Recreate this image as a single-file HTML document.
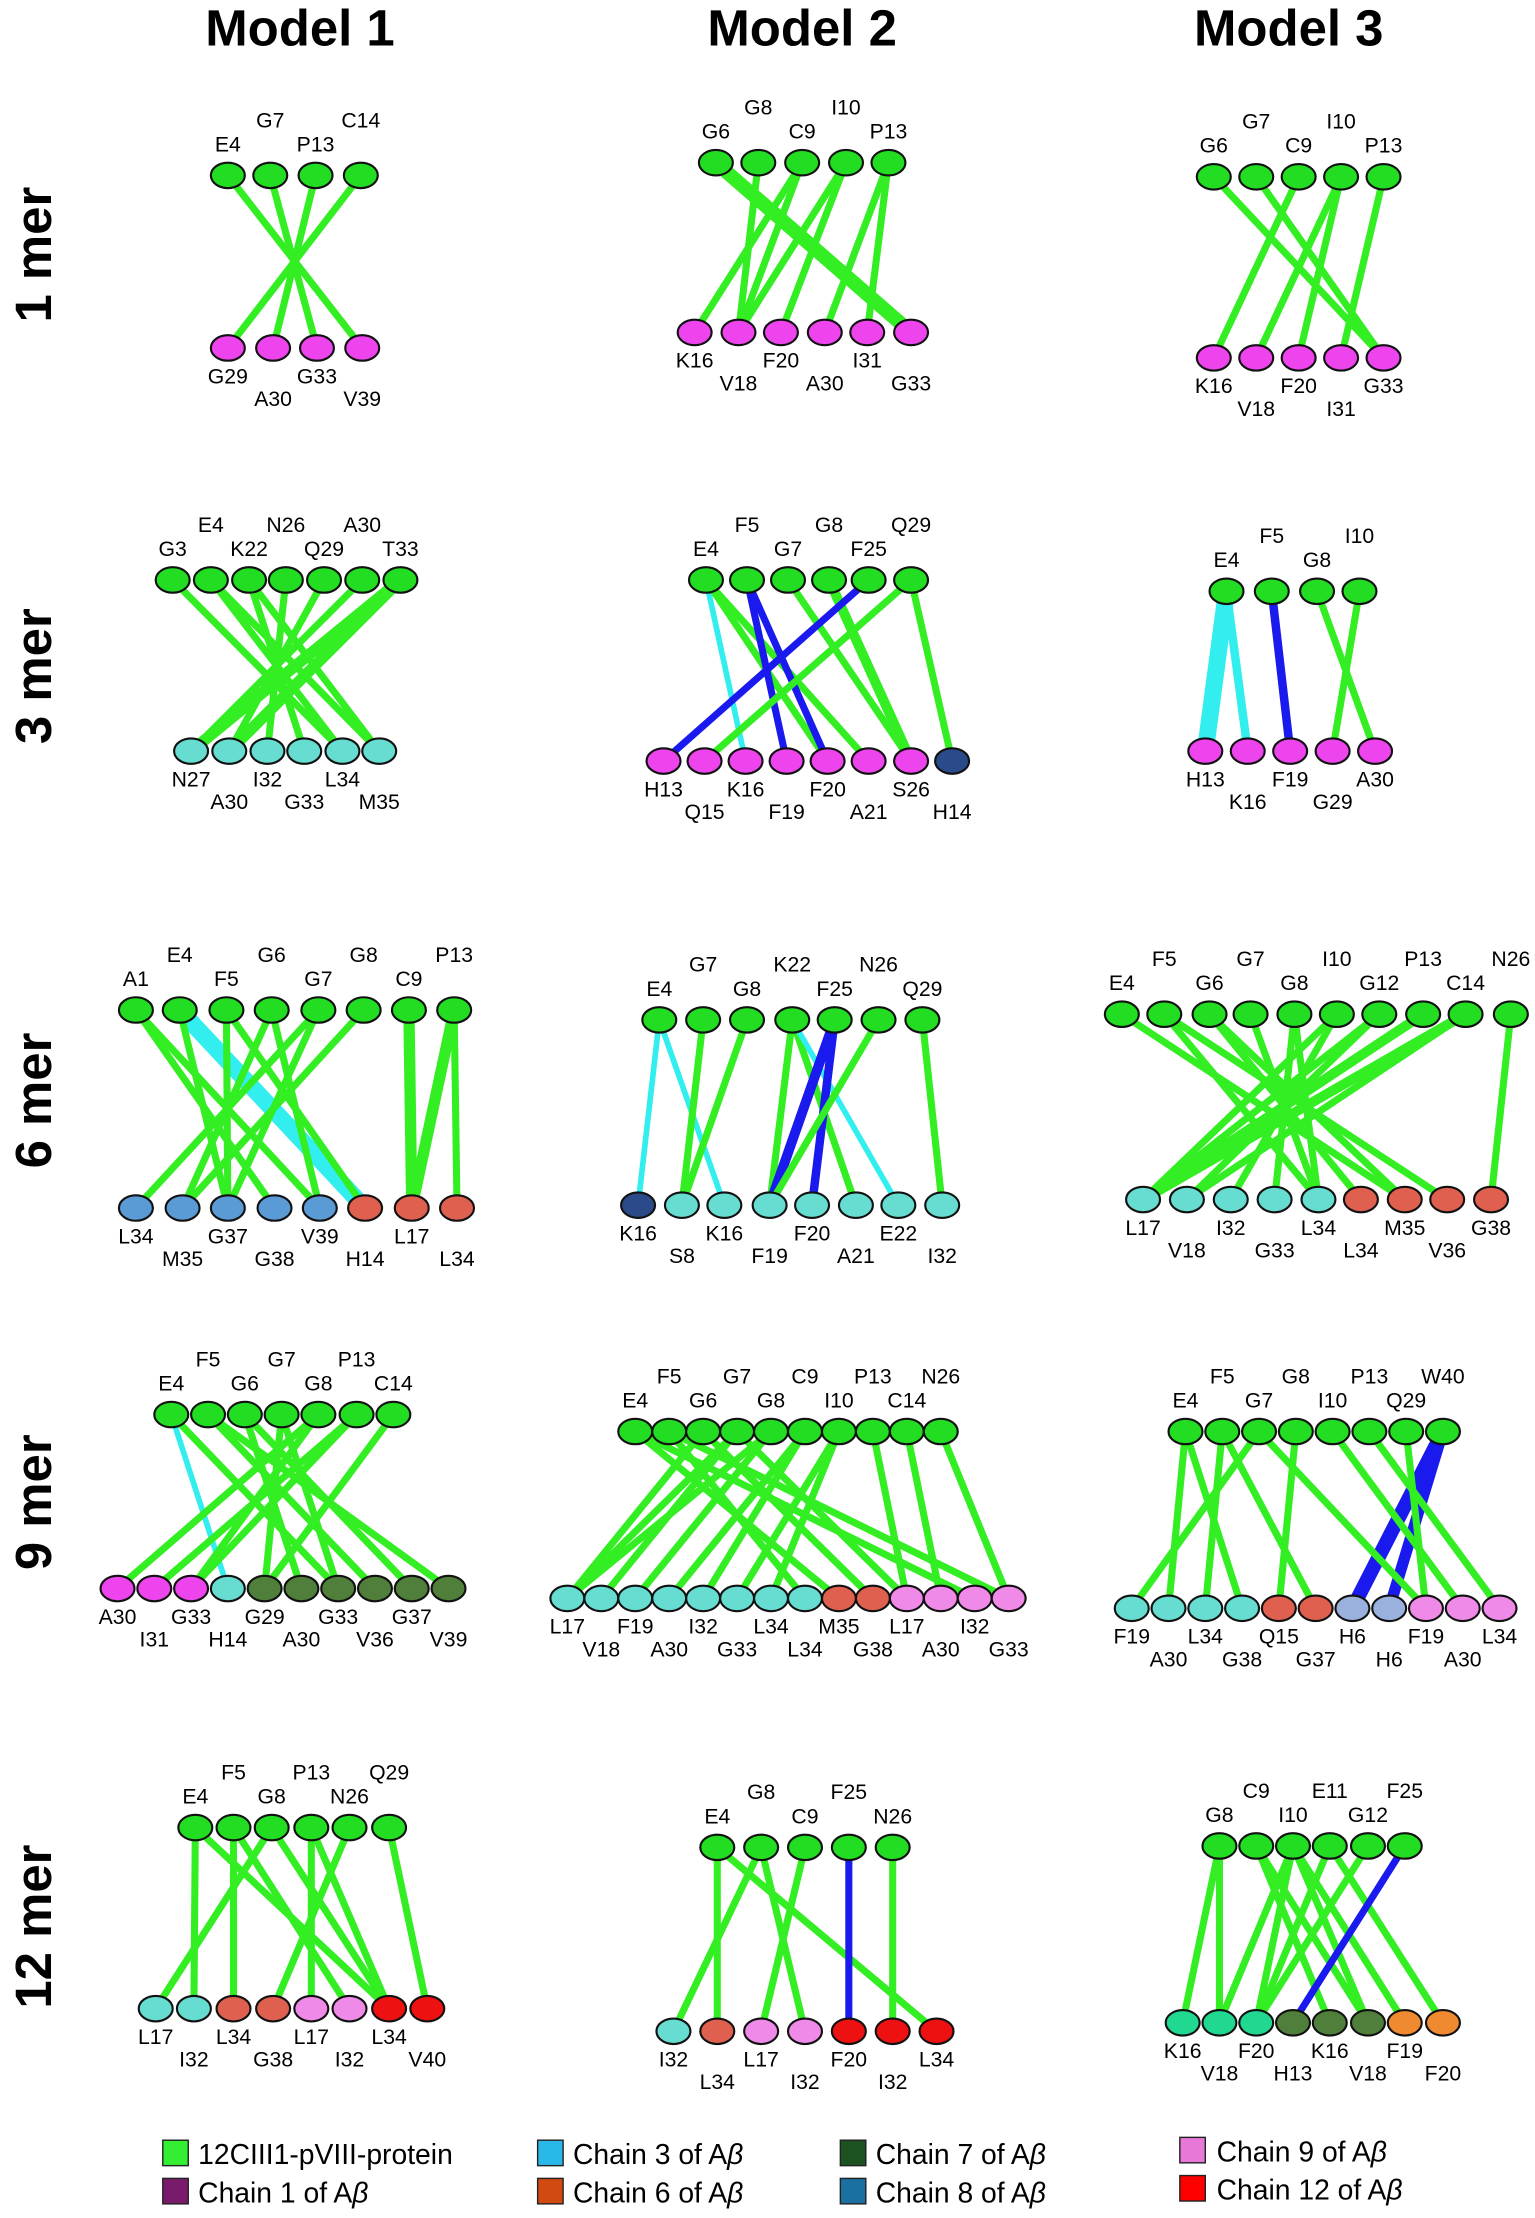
<!DOCTYPE html>
<html><head><meta charset="utf-8">
<style>
html,body{margin:0;padding:0;background:#fff;}
svg{display:block;font-family:"Liberation Sans",Arial,sans-serif;}
</style></head>
<body>
<svg id="chart" width="1535" height="2218" viewBox="0 0 1085 1568" xmlns="http://www.w3.org/2000/svg">
<g font-weight="bold" font-size="36" text-anchor="middle">
<text x="212" y="32">Model 1</text>
<text x="567" y="32">Model 2</text>
<text x="911" y="32">Model 3</text>
</g>
<g font-weight="bold" font-size="36" text-anchor="middle">
<text transform="translate(36,180) rotate(-90)">1 mer</text>
<text transform="translate(36,478) rotate(-90)">3 mer</text>
<text transform="translate(36,778) rotate(-90)">6 mer</text>
<text transform="translate(36,1062) rotate(-90)">9 mer</text>
<text transform="translate(36,1362) rotate(-90)">12 mer</text>
</g>
<g id="panels"></g>
<g font-size="20">
<rect x="115" y="1513" width="18" height="18" fill="#33ee33" stroke="#222"/>
<text x="140" y="1530">12CIII1-pVIII-protein</text>
<rect x="380" y="1513" width="18" height="18" fill="#2ab8e8" stroke="#222"/>
<text x="405" y="1530">Chain 3 of A<tspan font-style="italic">β</tspan></text>
<rect x="594" y="1513" width="18" height="18" fill="#1c5222" stroke="#222"/>
<text x="619" y="1530">Chain 7 of A<tspan font-style="italic">β</tspan></text>
<rect x="834" y="1511" width="18" height="18" fill="#e878d8" stroke="#222"/>
<text x="860" y="1528">Chain 9 of A<tspan font-style="italic">β</tspan></text>
<rect x="115" y="1540" width="18" height="18" fill="#7a1a6a" stroke="#222"/>
<text x="140" y="1557">Chain 1 of A<tspan font-style="italic">β</tspan></text>
<rect x="380" y="1540" width="18" height="18" fill="#d04a12" stroke="#222"/>
<text x="405" y="1557">Chain 6 of A<tspan font-style="italic">β</tspan></text>
<rect x="594" y="1540" width="18" height="18" fill="#1a70a0" stroke="#222"/>
<text x="619" y="1557">Chain 8 of A<tspan font-style="italic">β</tspan></text>
<rect x="834" y="1538" width="18" height="18" fill="#ff0000" stroke="#222"/>
<text x="860" y="1555">Chain 12 of A<tspan font-style="italic">β</tspan></text>
</g>
</svg>
<script>
const colorMap={g:'#22dd22',m:'#ee44ee',t:'#66ddd0',s:'#5b9bd5',r:'#e06050',d:'#4f7f3a',n:'#2a4a8a',R:'#ee1111',o:'#f08a30',p:'#f08ae8',l:'#9ab0dd',e:'#20d890'};
const edgeColors={G:'#33ee22',C:'#33eeee',B:'#1a1aee'};
const panels=[
{id:'m1-1mer',ty:124,tx:[161,191,223,255],tl:['E4','G7','P13','C14'],by:246,bx:[161,193,224,256],bl:['G29','A30','G33','V39'],bc:'mmmm',
 edges:[[0,3],[1,2],[2,1],[3,0]]},
{id:'m2-1mer',ty:115,tx:[506,536,567,598,628],tl:['G6','G8','C9','I10','P13'],by:235,bx:[491,522,552,583,613,644],bl:['K16','V18','F20','A30','I31','G33'],bc:'mmmmmm',
 edges:[[0,5,10],[1,1],[2,0],[2,1],[3,1],[3,2],[4,3],[4,4]]},
{id:'m3-1mer',ty:125,tx:[858,888,918,948,978],tl:['G6','G7','C9','I10','P13'],by:253,bx:[858,888,918,948,978],bl:['K16','V18','F20','I31','G33'],bc:'mmmmm',
 edges:[[0,4],[1,4],[2,0],[3,1],[3,2],[4,3]]},
{id:'m1-3mer',ty:410,tx:[122,149,176,202,229,256,283],tl:['G3','E4','K22','N26','Q29','A30','T33'],by:531,bx:[135,162,189,215,242,268],bl:['N27','A30','I32','G33','L34','M35'],bc:'tttttt',
 edges:[[0,4],[1,5],[1,4],[2,3],[3,2],[4,1],[5,0],[6,0,8],[6,1,8],[2,5]]},
{id:'m2-3mer',ty:410,tx:[499,528,557,586,614,644],tl:['E4','F5','G7','G8','F25','Q29'],by:538,bx:[469,498,527,556,585,614,644,673],bl:['H13','Q15','K16','F19','F20','A21','S26','H14'],bc:'mmmmmmmn',
 edges:[[0,2,4,'C'],[0,4],[0,5],[1,3,5,'B'],[1,4,5,'B'],[2,6],[3,6,7],[4,0,5,'B'],[5,1],[5,7]]},
{id:'m3-3mer',ty:418,tx:[867,899,931,961],tl:['E4','F5','G8','I10'],by:531,bx:[852,882,912,942,972],bl:['H13','K16','F19','G29','A30'],bc:'mmmmm',
 edges:[[0,0,12,'C'],[0,1,6,'C'],[1,2,6,'B'],[2,4],[3,3]]},
{id:'m1-6mer',ty:714,tx:[96,127,160,192,225,257,289,321],tl:['A1','E4','F5','G6','G7','G8','C9','P13'],by:854,bx:[96,129,161,194,226,258,291,323],bl:['L34','M35','G37','G38','V39','H14','L17','L34'],bc:'sssssrrr',
 edges:[[0,3],[0,4],[1,5,12,'C'],[1,2],[2,2],[2,5],[3,1],[3,4],[4,0],[4,2],[5,1],[6,6,8],[7,6,8],[7,7]]},
{id:'m2-6mer',ty:721,tx:[466,497,528,560,590,621,652],tl:['E4','G7','G8','K22','F25','N26','Q29'],by:852,bx:[451,482,512,544,574,605,635,666],bl:['K16','S8','K16','F19','F20','A21','E22','I32'],bc:'nttttttt',
 edges:[[0,0,4,'C'],[0,2,4,'C'],[1,1],[2,1],[3,3],[3,5],[3,6,4,'C'],[4,3,7,'B'],[4,4,6,'B'],[5,3],[6,7]]},
{id:'m3-6mer',ty:717,tx:[793,823,855,884,915,945,975,1006,1036,1068],tl:['E4','F5','G6','G7','G8','I10','G12','P13','C14','N26'],by:848,bx:[808,839,870,901,932,962,993,1023,1054],bl:['L17','V18','I32','G33','L34','L34','M35','V36','G38'],bc:'tttttrrrr',
 edges:[[0,6],[1,7],[2,5],[7,0,7],[8,0,7],[8,1],[6,1],[5,2],[4,3],[3,4],[9,8],[2,6],[4,4],[1,4],[6,0],[5,0]]},
{id:'m1-9mer',ty:1000,tx:[121,147,173,199,225,252,278],tl:['E4','F5','G6','G7','G8','P13','C14'],by:1123,bx:[83,109,135,161,187,213,239,265,291,317],bl:['A30','I31','G33','H14','G29','A30','G33','V36','G37','V39'],bc:'mmmtdddddd',
 edges:[[0,3,4,'C'],[0,6],[1,7],[1,9],[2,5],[2,8],[3,4],[4,0],[4,2],[5,2],[5,1],[6,4],[3,6]]},
{id:'m2-9mer',ty:1012,tx:[449,473,497,521,545,569,593,617,641,665],tl:['E4','F5','G6','G7','G8','C9','I10','P13','C14','N26'],by:1130,bx:[401,425,449,473,497,521,545,569,593,617,641,665,689,713],bl:['L17','V18','F19','A30','I32','G33','L34','L34','M35','G38','L17','A30','I32','G33'],bc:'ttttttttrrpppp',
 edges:[[0,8],[0,12],[1,7],[2,0],[3,0],[3,1],[4,0],[4,2],[5,3],[5,4],[6,5],[6,6],[7,10],[8,11],[9,13],[2,9],[3,10],[1,13]]},
{id:'m3-9mer',ty:1012,tx:[838,864,890,916,942,968,994,1020],tl:['E4','F5','G7','G8','I10','P13','Q29','W40'],by:1137,bx:[800,826,852,878,904,930,956,982,1008,1034,1060],bl:['F19','A30','L34','G38','Q15','G37','H6','H6','F19','A30','L34'],bc:'ttttrrllppp',
 edges:[[7,6,10,'B'],[7,7,8,'B'],[0,1],[0,3],[1,2],[1,5],[2,0],[3,4],[4,9],[5,10],[6,8],[2,8]]},
{id:'m1-12mer',ty:1292,tx:[138,165,192,220,247,275],tl:['E4','F5','G8','P13','N26','Q29'],by:1420,bx:[110,137,165,193,220,247,275,302],bl:['L17','I32','L34','G38','L17','I32','L34','V40'],bc:'ttrrppRR',
 edges:[[0,1],[0,6],[1,2],[1,5],[2,0],[2,6],[3,4],[3,6],[4,3],[5,7]]},
{id:'m2-12mer',ty:1306,tx:[507,538,569,600,631],tl:['E4','G8','C9','F25','N26'],by:1436,bx:[476,507,538,569,600,631,662],bl:['I32','L34','L17','I32','F20','I32','L34'],bc:'trppRRR',
 edges:[[0,1],[0,6],[1,0],[1,3],[2,2],[3,4,5,'B'],[4,5]]},
{id:'m3-12mer',ty:1305,tx:[862,888,914,940,967,993],tl:['G8','C9','I10','E11','G12','F25'],by:1430,bx:[836,862,888,914,940,967,993,1020],bl:['K16','V18','F20','H13','K16','V18','F19','F20'],bc:'eeedddoo',
 edges:[[0,0],[0,1],[1,4],[1,5],[2,1],[2,2],[2,5],[2,6],[3,2],[3,7],[4,2],[5,3,5,'B']]}
];
const NS='http://www.w3.org/2000/svg';
const root=document.getElementById('panels');
function mk(tag,attrs,parent){const e=document.createElementNS(NS,tag);for(const k in attrs)e.setAttribute(k,attrs[k]);parent.appendChild(e);return e;}
panels.forEach(p=>{
  const g=mk('g',{},root);
  
  
  p.edges.forEach((ed,i)=>{
    const w=ed[2]||5, c=edgeColors[ed[3]||'G'];
    const l=mk('line',{x1:p.tx[ed[0]],y1:p.ty,x2:p.bx[ed[1]],y2:p.by,stroke:c,'stroke-width':w},g);
    
    
  });
  p.tx.forEach((x,i)=>{
    const n=mk('ellipse',{cx:x,cy:p.ty,rx:12,ry:9,fill:colorMap.g,stroke:'#111','stroke-width':1.5},g);
    
    
    const t=mk('text',{x:x,y:p.ty-(i%2?38:21),'font-size':15,'text-anchor':'middle','dominant-baseline':'middle'},g);
    t.textContent=p.tl[i];
    
    
  });
  p.bx.forEach((x,i)=>{
    const n=mk('ellipse',{cx:x,cy:p.by,rx:12,ry:9,fill:colorMap[p.bc[i]],stroke:'#111','stroke-width':1.5},g);
    
    
    const t=mk('text',{x:x,y:p.by+(i%2?37:21),'font-size':15,'text-anchor':'middle','dominant-baseline':'middle'},g);
    t.textContent=p.bl[i];
    
    
  });
});
</script>
</body></html>
